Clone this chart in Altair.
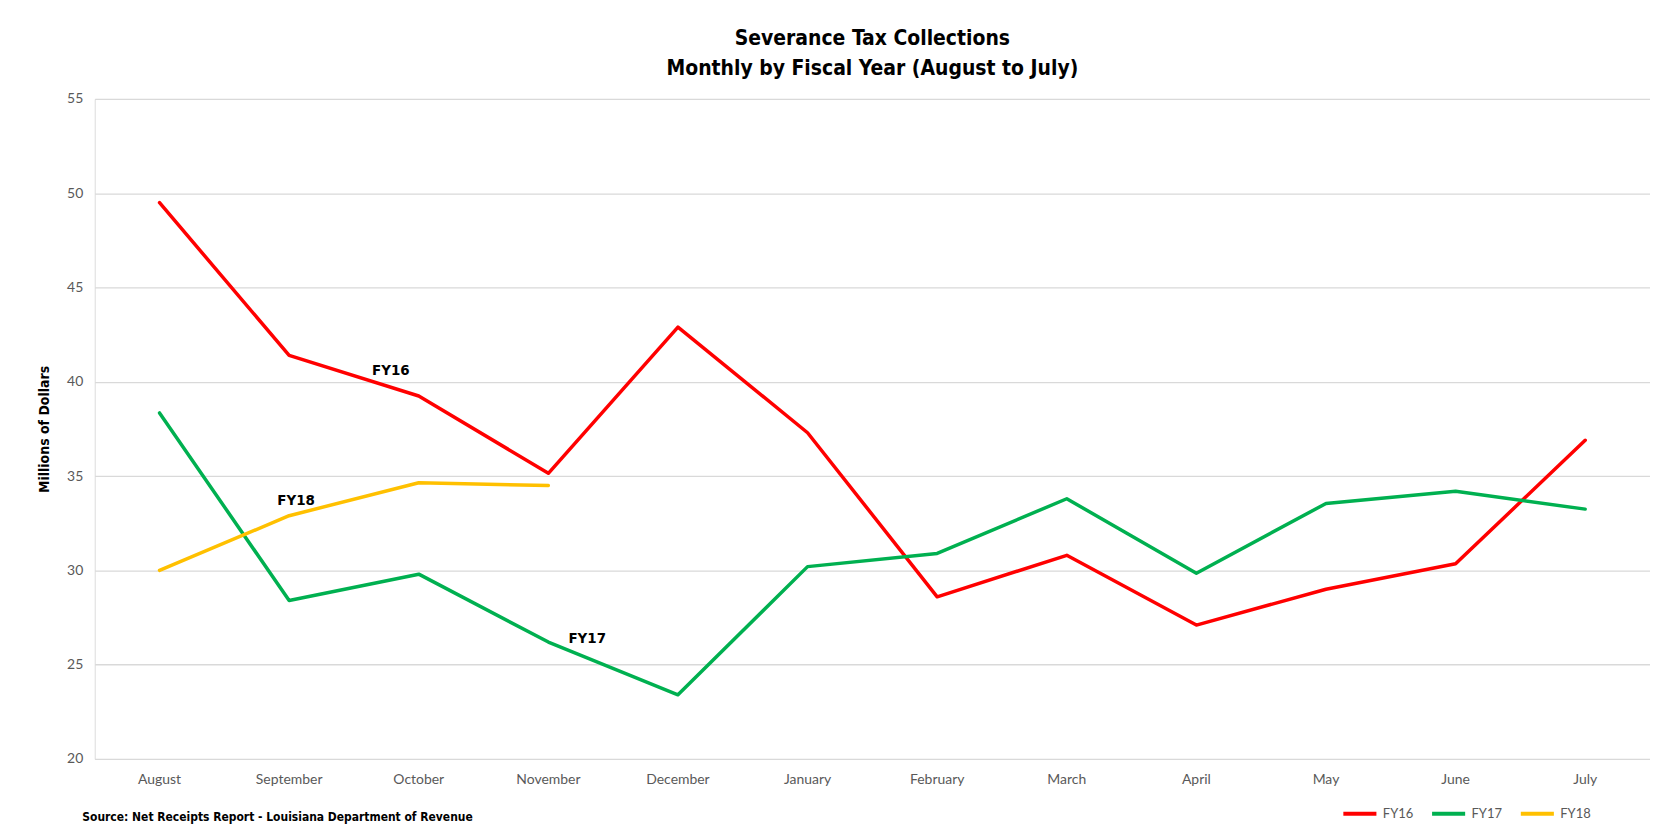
import altair as alt
import pandas as pd

months = ["August", "September", "October", "November", "December", "January",
          "February", "March", "April", "May", "June", "July"]
fy16 = [49.5, 41.4, 39.25, 35.15, 42.9, 37.3, 28.6, 30.8, 27.1, 29.0, 30.35, 36.9]
fy17 = [38.35, 28.4, 29.8, 26.2, 23.4, 30.2, 30.9, 33.8, 29.85, 33.55, 34.2, 33.25]
fy18 = [30.0, 32.9, 34.65, 34.5]

series_names = ["FY16", "FY17", "FY18"]
series_colors = ["#FF0000", "#00B050", "#FFC000"]

# inline series labels (offset in px from the start of the month's band)
label_text = ["FY16", "FY18", "FY17"]
label_month = ["October", "September", "November"]
label_value = [40.6, 33.75, 26.4]
label_dx = [37, 72, 104]

rows = []
for name, vals in zip(series_names, [fy16, fy17, fy18]):
    for m, v in zip(months, vals):
        rows.append({"Month": m, "Series": name, "Value": v})
df = pd.DataFrame(rows)

labels_df = pd.DataFrame({"Month": label_month, "Value": label_value,
                          "Text": label_text, "dx": label_dx})

TITLE_FONT = "DejaVu Sans Condensed, DejaVu Sans, sans-serif"
TICK_FONT = "Lato, sans-serif"

x_enc = alt.X("Month:N", sort=months, scale=alt.Scale(paddingInner=0, paddingOuter=0),
              axis=alt.Axis(title="Source: Net Receipts Report - Louisiana Department of Revenue",
                            titleAnchor="start", titleAlign="left", titleX=-13, titleY=58,
                            titleBaseline="middle",
                            titleFont=TITLE_FONT, titleFontSize=12, titleFontWeight="bold",
                            titleColor="#000000",
                            labelFont=TICK_FONT, labelFontSize=14, labelColor="#595959",
                            labelPadding=14, ticks=False, domain=False, grid=False,
                            labelAngle=0))

lines = alt.Chart(df).mark_line(strokeWidth=3.5, strokeCap="round", strokeJoin="round").encode(
    x=x_enc,
    y=alt.Y("Value:Q", scale=alt.Scale(domain=[20, 55], nice=False, zero=False),
            axis=alt.Axis(values=[20, 25, 30, 35, 40, 45, 50, 55], title="Millions of Dollars",
                          titleFont=TITLE_FONT, titleFontSize=14, titleFontWeight="bold",
                          titleColor="#000000", titlePadding=15,
                          labelFont=TICK_FONT, labelFontSize=14, labelColor="#595959",
                          labelPadding=12, ticks=False, domain=False,
                          gridColor="#d9d9d9", gridWidth=1.3)),
    color=alt.Color("Series:N", scale=alt.Scale(domain=series_names, range=series_colors),
                    legend=alt.Legend(title=None, orient="none", direction="horizontal",
                                      legendX=1250, legendY=698,
                                      symbolType="stroke", symbolStrokeWidth=4,
                                      symbolSize=1100, columnPadding=10, labelOffset=4,
                                      labelFont=TICK_FONT, labelFontSize=13,
                                      labelColor="#595959")),
)

texts = alt.Chart(labels_df).mark_text(font=TITLE_FONT, fontSize=15, fontWeight="bold",
                                       color="#000000", baseline="middle").encode(
    x=alt.X("Month:N", sort=months),
    y="Value:Q",
    text="Text:N",
    xOffset=alt.XOffset("dx:Q", scale=None),
)

chart = alt.layer(lines, texts).properties(
    width=1560, height=662,
    padding={"left": 87, "top": 90, "right": 0, "bottom": 70},
    autosize=alt.AutoSizeParams(type="none"),
    title=alt.Title(["Severance Tax Collections", "Monthly by Fiscal Year (August to July)"],
                    font=TITLE_FONT, fontSize=21, fontWeight="bold", color="#000000",
                    anchor="middle", offset=13, lineHeight=30),
).configure_view(stroke=None).configure(background="white")

chart.save("out.html", embed_options={"renderer": "svg", "actions": False})
